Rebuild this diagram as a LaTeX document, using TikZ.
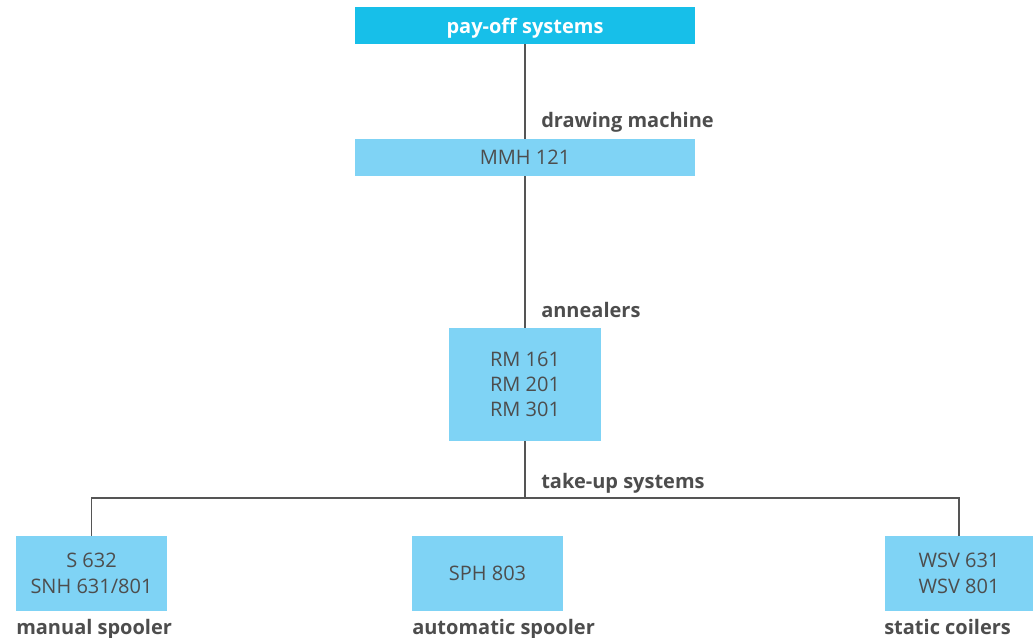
\documentclass[tikz,border=0pt]{standalone}
\usepackage{fontspec}
\setmainfont{Open Sans}
\usepackage{xcolor}
\usepackage{tikz}

\definecolor{headblue}{HTML}{17BFE9}
\definecolor{boxblue}{HTML}{7FD3F5}
\definecolor{txtgray}{HTML}{4D4D4D}
\definecolor{linegray}{HTML}{555555}

\begin{document}
\begin{tikzpicture}[x=0.75pt, y=-0.75pt,
    box/.style={rectangle, fill=boxblue, text=txtgray, align=center, inner sep=0pt, font=\fontsize{15}{19}\selectfont},
    lbl/.style={text=txtgray, inner sep=0pt, font=\fontsize{15}{18}\selectfont\bfseries},
    conn/.style={draw=linegray, line width=0.9pt}]
        \useasboundingbox (0,0) rectangle (1033,638);

        \node[box, fill=headblue, text=white, font=\fontsize{15}{18}\selectfont\bfseries, text depth=0pt, minimum width=255pt, minimum height=27.75pt] (payoff) at (525,25.5) {pay-off systems};

        \node[box, minimum width=255pt, minimum height=27.75pt] (mmh) at (525,157.5) {MMH 121};

        \node[box, minimum width=114pt, minimum height=84.75pt] (rm) at (525,384.5) {RM 161\\RM 201\\RM 301};

        \node[box, minimum width=113.25pt, minimum height=56.25pt] (spool) at (91.5,573.5) {S 632\\SNH 631/801};
        \node[box, minimum width=113.25pt, minimum height=56.25pt] (sph) at (487.5,573.5) {SPH 803};
        \node[box, minimum width=111.75pt, minimum height=56.25pt] (wsv) at (959,573.5) {WSV 631\\WSV 801};

        \coordinate (split) at (525,498);

        \draw[conn] (payoff) -- (mmh);
        \draw[conn] (mmh) -- (rm);
        \draw[conn] (rm) -- (split);
        \draw[conn] (split) -| (spool);
        \draw[conn] (split) -| (wsv);

        \node[lbl, anchor=base west] (drawlbl) at (541,128) {drawing machine};
        \node[lbl, anchor=base west] (anneallbl) at (541,318) {annealers};
        \node[lbl, anchor=base west] (takelbl) at (541,488) {take-up systems};

        \node[lbl, anchor=base west] (manlbl) at (16,634) {manual spooler};
        \node[lbl, anchor=base west] (autolbl) at (412,634) {automatic spooler};
        \node[lbl, anchor=base west] (statlbl) at (884,634) {static coilers};
    \end{tikzpicture}
\end{document}
